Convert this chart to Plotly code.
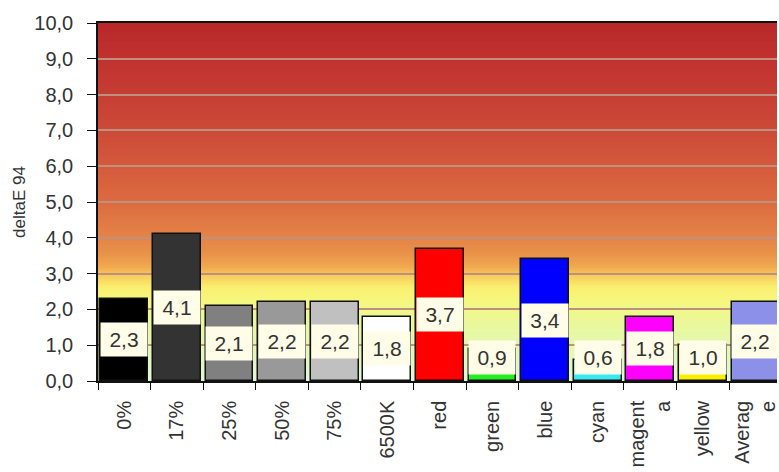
import plotly.graph_objects as go

# deltaE 94 per measured patch
categories = ["0%", "17%", "25%", "50%", "75%", "6500K", "red", "green",
              "blue", "cyan", "magenta", "yellow", "Average"]
tick_labels = ["0%", "17%", "25%", "50%", "75%", "6500K", "red", "green",
               "blue", "cyan", "magent<br>a", "yellow", "Averag<br>e"]
delta_e = [2.3, 4.1, 2.1, 2.2, 2.2, 1.8, 3.7, 0.9, 3.4, 0.6, 1.8, 1.0, 2.2]
bar_colors = ["#000000", "#333333", "#808080", "#999999", "#C0C0C0", "#FFFFFF",
              "#FF0000", "#22EE22", "#0000FF", "#38E8F0", "#FF00FF", "#F8F000",
              "#8C90E8"]

# background gradient stops (deltaE value, colour)
grad_stops = [
    (0.0, (226, 247, 217)), (0.8, (228, 247, 184)), (1.5, (232, 248, 160)),
    (2.2, (244, 248, 128)), (2.6, (250, 240, 112)), (2.9, (248, 208, 96)),
    (3.2, (240, 168, 80)), (3.6, (232, 144, 72)), (4.0, (228, 132, 72)),
    (5.0, (220, 108, 64)), (6.0, (212, 90, 60)), (7.0, (204, 74, 56)),
    (8.0, (198, 62, 52)), (9.0, (192, 50, 48)), (10.0, (184, 40, 42)),
]


def grad_color(v):
    for (v0, c0), (v1, c1) in zip(grad_stops[:-1], grad_stops[1:]):
        if v0 <= v <= v1:
            t = (v - v0) / (v1 - v0)
            r, g, b = (round(a + (bb - a) * t) for a, bb in zip(c0, c1))
            return f"rgb({r},{g},{b})"
    return "rgb(184,40,42)"


FONT = "Liberation Sans, Arial, sans-serif"

fig = go.Figure()
fig.add_trace(go.Bar(
    x=categories, y=delta_e, width=0.91,
    marker=dict(color=bar_colors, line=dict(color="#111111", width=1.5)),
    hoverinfo="x+y",
))

# gradient bands behind the plot; each band overlaps the next so no seams show
shapes = []
step = 0.04
n = int(round(10 / step))
for i in range(n):
    y0 = i * step
    shapes.append(dict(type="rect", xref="paper", yref="y", x0=0, x1=1,
                       y0=y0, y1=min(y0 + 2 * step, 10), layer="below",
                       line=dict(width=0), fillcolor=grad_color(y0 + step / 2)))

# value labels centred in each bar, kept clear of the axis
annotations = []
for cat, v in zip(categories, delta_e):
    annotations.append(dict(
        x=cat, y=max(v / 2, 0.67), xref="x", yref="y",
        text=f"{v:.1f}".replace(".", ","), showarrow=False,
        bgcolor="#FFFDE8", width=44, height=31, borderpad=1,
        font=dict(family=FONT, size=21, color="#333333"),
    ))

fig.update_layout(
    width=779, height=472,
    margin=dict(l=98, r=0, t=23, b=91),
    paper_bgcolor="white", plot_bgcolor="white",
    separators=", ",
    showlegend=False,
    bargap=0,
    shapes=shapes, annotations=annotations,
    font=dict(family=FONT, color="#333333"),
)
fig.update_xaxes(
    type="category", range=[-0.5, 12.41],
    tickvals=categories, ticktext=tick_labels, tickangle=-90,
    tickson="boundaries", ticks="outside", ticklen=7, tickcolor="#111111",
    showline=True, linecolor="#111111", linewidth=1.5, mirror=True,
    showgrid=False, ticklabelstandoff=10,
    tickfont=dict(family=FONT, size=20, color="#333333"),
)
fig.update_yaxes(
    range=[0, 10], dtick=1, tickformat=".1f",
    ticks="outside", ticklen=9, tickcolor="#111111",
    showline=True, linecolor="#111111", linewidth=1.5,
    showgrid=True, gridcolor="#C0907F", gridwidth=1.5,
    zeroline=False, ticklabelstandoff=10,
    tickfont=dict(family=FONT, size=20, color="#333333"),
    title=dict(text="deltaE 94", font=dict(family=FONT, size=17, color="#333333"),
               standoff=4),
)

fig.write_html("out.html")
